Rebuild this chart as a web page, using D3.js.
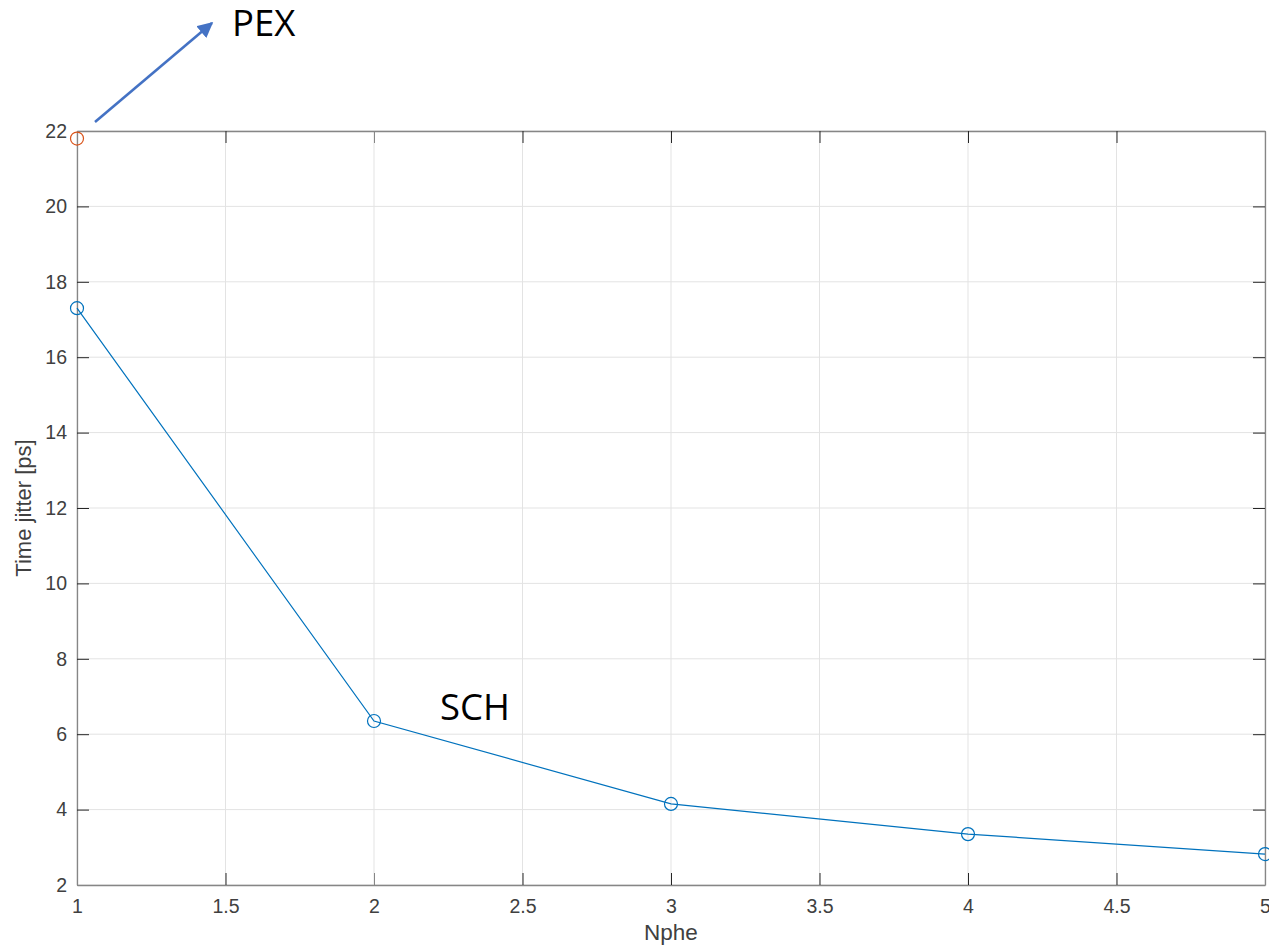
<!DOCTYPE html>
<html>
<head>
<meta charset="utf-8">
<script src="https://cdn.jsdelivr.net/npm/d3@7"></script>
<style>
  html, body { margin: 0; padding: 0; background: #fff; }
  svg { display: block; }
</style>
</head>
<body>
<svg id="chart" width="1269" height="946"></svg>
<script>
// Time jitter versus number of photoelectrons
const nphe = [1, 2, 3, 4, 5];
const schJitter = [17.3, 6.35, 4.15, 3.35, 2.82];
const pexNphe = [1];
const pexJitter = [21.8];
const xTicks = [1, 1.5, 2, 2.5, 3, 3.5, 4, 4.5, 5];
const yTicks = [2, 4, 6, 8, 10, 12, 14, 16, 18, 20, 22];

const W = 1269, H = 946;
const m = { left: 77, right: 4, top: 131, bottom: 61 };
const iw = W - m.left - m.right, ih = H - m.top - m.bottom;

const svg = d3.select("#chart");
const g = svg.append("g").attr("transform", `translate(${m.left},${m.top})`);

const x = d3.scaleLinear().domain([1, 5]).range([0, iw]);
const y = d3.scaleLinear().domain([2, 22]).range([ih, 0]);

const font = "'Liberation Sans', Arial, Helvetica, sans-serif";
const axisColor = "#868686";
const textColor = "#404040";

// grid
g.append("g").selectAll("line").data(xTicks).join("line")
  .attr("x1", d => x(d)).attr("x2", d => x(d)).attr("y1", 0).attr("y2", ih)
  .attr("stroke", "#e3e3e3").attr("stroke-width", 1);
g.append("g").selectAll("line").data(yTicks).join("line")
  .attr("y1", d => y(d)).attr("y2", d => y(d)).attr("x1", 0).attr("x2", iw)
  .attr("stroke", "#e3e3e3").attr("stroke-width", 1);

// axes (ticks drawn inward)
const tickLen = 12;
const styleAxis = sel => {
  sel.select(".domain").attr("stroke", axisColor).attr("stroke-width", 1.3);
  sel.selectAll(".tick line").attr("stroke", "#262626").attr("stroke-width", 1);
  sel.selectAll(".tick text").attr("fill", textColor)
    .style("font-family", font).style("font-size", "19.5px");
};
g.append("g").attr("transform", `translate(0,${ih})`)
  .call(d3.axisBottom(x).tickValues(xTicks).tickSizeInner(-tickLen).tickSizeOuter(0).tickPadding(14).tickFormat(d3.format("")))
  .call(styleAxis);
g.append("g")
  .call(d3.axisLeft(y).tickValues(yTicks).tickSizeInner(-tickLen).tickSizeOuter(0).tickPadding(10).tickFormat(d3.format("")))
  .call(styleAxis);
g.append("g")
  .call(d3.axisTop(x).tickValues(xTicks).tickSizeInner(-tickLen).tickSizeOuter(0).tickFormat(""))
  .call(styleAxis);
g.append("g").attr("transform", `translate(${iw},0)`)
  .call(d3.axisRight(y).tickValues(yTicks).tickSizeInner(-tickLen).tickSizeOuter(0).tickFormat(""))
  .call(styleAxis);
// ticks that sit on the box corners blend into the frame
g.selectAll(".tick line").filter(function(d){ return d === 1 || d === 5 || d === 2 || d === 22; })
  .attr("stroke", axisColor);

// axis labels
svg.append("text").attr("x", m.left + iw / 2).attr("y", 940)
  .attr("text-anchor", "middle").attr("fill", textColor)
  .style("font-family", font).style("font-size", "22.5px").text("Nphe");
svg.append("text")
  .attr("transform", `translate(31,${m.top + ih / 2}) rotate(-90)`)
  .attr("text-anchor", "middle").attr("fill", textColor)
  .style("font-family", font).style("font-size", "22px").text("Time jitter [ps]");

// SCH series
const schData = nphe.map((d, i) => [d, schJitter[i]]);
const blue = "#0072BD";
g.append("path").datum(schData)
  .attr("d", d3.line().x(d => x(d[0])).y(d => y(d[1])))
  .attr("fill", "none").attr("stroke", blue).attr("stroke-width", 1.2);
g.append("g").selectAll("circle").data(schData).join("circle")
  .attr("cx", d => x(d[0])).attr("cy", d => y(d[1])).attr("r", 6.5)
  .attr("fill", "none").attr("stroke", blue).attr("stroke-width", 1.2);

// PEX point
const pexData = pexNphe.map((d, i) => [d, pexJitter[i]]);
g.append("g").selectAll("circle").data(pexData).join("circle")
  .attr("cx", d => x(d[0])).attr("cy", d => y(d[1])).attr("r", 6.5)
  .attr("fill", "none").attr("stroke", "#D95319").attr("stroke-width", 1.2);

// annotations
svg.append("defs").append("marker")
  .attr("id", "arrowHead").attr("viewBox", "0 0 10 10")
  .attr("refX", 9).attr("refY", 5).attr("markerWidth", 6).attr("markerHeight", 6)
  .attr("markerUnits", "strokeWidth").attr("orient", "auto")
  .append("path").attr("d", "M0,0 L10,5 L0,10 Z").attr("fill", "#4472C4");
svg.append("line")
  .attr("x1", 95).attr("y1", 122).attr("x2", 212).attr("y2", 23)
  .attr("stroke", "#4472C4").attr("stroke-width", 2.6)
  .attr("marker-end", "url(#arrowHead)");
const noteFont = "'Open Sans', 'Noto Sans', sans-serif";
svg.append("text").attr("x", 232).attr("y", 36).attr("fill", "#000")
  .style("font-family", noteFont).style("font-size", "36.5px").text("PEX");
svg.append("text").attr("x", 440).attr("y", 720).attr("fill", "#000")
  .style("font-family", noteFont).style("font-size", "36.5px").text("SCH");
</script>
</body>
</html>
